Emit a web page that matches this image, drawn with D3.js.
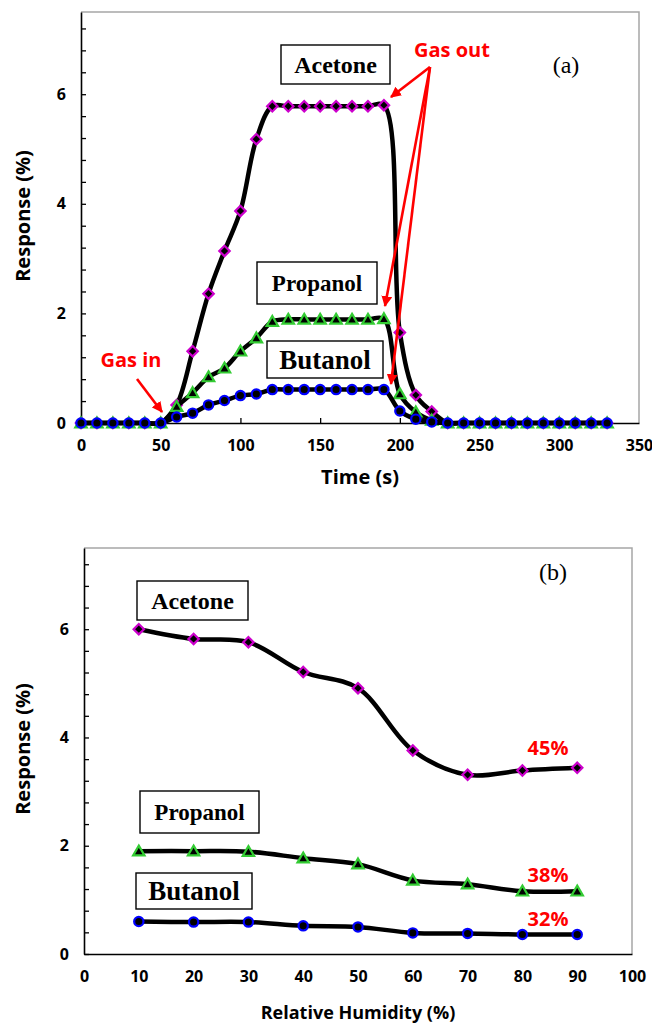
<!DOCTYPE html>
<html><head><meta charset="utf-8">
<script src="https://cdn.jsdelivr.net/npm/d3@7/dist/d3.min.js"></script>
<style>body{margin:0;background:#fff}svg{display:block}</style>
</head><body><svg id="c" width="652" height="1025"></svg>
<script>
// ---------- data: panel (a) ----------
const timeS = [0,10,20,30,40,50,60,70,80,90,100,110,120,130,140,150,160,170,180,190,200,210,220,230,240,250,260,270,280,290,300,310,320,330];
const acetoneTime  = [0,0,0,0,0,0,0.33,1.31,2.36,3.14,3.87,5.18,5.78,5.78,5.78,5.78,5.78,5.78,5.78,5.80,1.65,0.51,0.21,0,0,0,0,0,0,0,0,0,0,0];
const propanolTime = [0,0,0,0,0,0,0.30,0.55,0.84,1.00,1.31,1.55,1.85,1.89,1.89,1.89,1.89,1.89,1.89,1.90,0.53,0.20,0.05,0,0,0,0,0,0,0,0,0,0,0];
const butanolTime  = [0,0,0,0,0,0,0.11,0.18,0.33,0.41,0.50,0.53,0.61,0.61,0.61,0.61,0.61,0.61,0.61,0.61,0.22,0.07,0.02,0,0,0,0,0,0,0,0,0,0,0];
// ---------- data: panel (b) ----------
const humidity = [10,20,30,40,50,60,70,80,90];
const acetoneRH  = [6.00,5.82,5.76,5.21,4.91,3.76,3.31,3.39,3.44];
const propanolRH = [1.90,1.90,1.89,1.77,1.66,1.36,1.29,1.16,1.16];
const butanolRH  = [0.60,0.59,0.59,0.52,0.50,0.39,0.38,0.36,0.36];
// ---------- ticks ----------
const yTickValues = [0,0.4,0.8,1.2,1.6,2,2.4,2.8,3.2,3.6,4,4.4,4.8,5.2,5.6,6,6.4,6.8,7.2];
const yTickLabels = [0,2,4,6];
const xTicksTime = [0,50,100,150,200,250,300,350];
const xTicksRH = [0,10,20,30,40,50,60,70,80,90,100];
const reductionLabels = ["45%","38%","32%"];

const svg = d3.select("#c");
const SANS = "'Open Sans', sans-serif";
const SERIF = "'Liberation Serif', 'Times New Roman', serif";
const COL = {acetone:"#CC00CC", propanol:"#33CC33", butanol:"#0000FF"};

// arrow marker
svg.append("defs").append("marker")
  .attr("id","arr").attr("viewBox","0 0 10 10").attr("refX",9).attr("refY",5)
  .attr("markerWidth",4.2).attr("markerHeight",4.2).attr("orient","auto-start-reverse")
  .attr("markerUnits","strokeWidth")
  .append("path").attr("d","M0,0 L10,5 L0,10 z").attr("fill","#FF0000");

function panel(opts){
  const g = svg.append("g");
  const x = d3.scaleLinear().domain(opts.xDomain).range([opts.left, opts.right]);
  const y = d3.scaleLinear().domain([0,7.5]).range([opts.bottom, opts.top]);
  g.append("path").attr("d",`M${opts.left},${opts.top}H${opts.right}V${opts.bottom}`)
    .attr("fill","none").attr("stroke","#A6A6A6").attr("stroke-width",1.5);
  const ya = g.append("g").attr("transform",`translate(${opts.left},0)`)
    .call(d3.axisLeft(y).tickValues(yTickValues).tickSizeInner(-5).tickSizeOuter(0).tickPadding(15)
      .tickFormat(d => yTickLabels.includes(d) ? d : ""));
  const xa = g.append("g").attr("transform",`translate(0,${opts.bottom})`)
    .call(d3.axisBottom(x).tickValues(opts.xTicks).tickSizeInner(opts.xTickSize).tickSizeOuter(0).tickPadding(opts.xPad));
  [ya,xa].forEach(a=>{
    a.select(".domain").attr("stroke","#000").attr("stroke-width",1.6);
    a.selectAll(".tick line").attr("stroke","#000").attr("stroke-width",1.3);
    a.selectAll("text").attr("font-family",SANS).attr("font-weight","bold").attr("font-size",16).attr("fill","#000");
  });
  xa.selectAll(".tick line").filter(d=>d===opts.xDomain[0]||d===opts.xDomain[1]).remove();
  g.append("text").attr("x",(opts.left+opts.right)/2).attr("y",opts.xTitleY).attr("text-anchor","middle")
    .attr("font-family",SANS).attr("font-weight","bold").attr("font-size",opts.xTitleSize).text(opts.xTitle);
  g.append("text").attr("transform",`translate(30,${opts.yTitleC}) rotate(-90)`).attr("text-anchor","middle")
    .attr("font-family",SANS).attr("font-weight","bold").attr("font-size",20).text("Response (%)");
  const line = d3.line().x(d=>x(d[0])).y(d=>y(d[1])).curve(d3.curveCatmullRom.alpha(0.5));
  opts.series.forEach(s=>{
    const pts = opts.xs.map((v,i)=>[v,s.values[i]]);
    g.append("path").attr("d",line(pts)).attr("fill","none").attr("stroke","#000").attr("stroke-width",4.5)
      .attr("stroke-linejoin","round");
    const sym = s.kind==="diamond" ? d3.symbol(d3.symbolSquare,54)
              : s.kind==="triangle" ? d3.symbol(d3.symbolTriangle,56)
              : d3.symbol(d3.symbolCircle,68);
    g.selectAll(null).data(pts).enter().append("path")
      .attr("d",sym)
      .attr("transform",d=>`translate(${x(d[0])},${y(d[1])})`+(s.kind==="diamond"?" rotate(45)":"")+(s.kind==="triangle"?" translate(0,1)":""))
      .attr("fill","#000").attr("stroke",s.color).attr("stroke-width",2.2);
  });
  return {g,x,y};
}

function box(g, x0, y0, x1, y1, label, size){
  g.append("rect").attr("x",x0).attr("y",y0).attr("width",x1-x0).attr("height",y1-y0)
    .attr("fill","#fff").attr("stroke","#000").attr("stroke-width",1.4);
  g.append("text").attr("x",(x0+x1)/2).attr("y",(y0+y1)/2).attr("dy","0.34em").attr("text-anchor","middle")
    .attr("font-family",SERIF).attr("font-weight","bold").attr("font-size",size).text(label);
}
function redText(g,x,y,t){
  g.append("text").attr("x",x).attr("y",y).attr("text-anchor","middle").attr("font-family",SANS)
    .attr("font-weight","bold").attr("font-size",20).attr("fill","#FF0000").text(t);
}
function arrow(g,x1,y1,x2,y2){
  g.append("line").attr("x1",x1).attr("y1",y1).attr("x2",x2).attr("y2",y2)
    .attr("stroke","#FF0000").attr("stroke-width",2.6).attr("marker-end","url(#arr)");
}

// ---------- panel (a) ----------
const A = panel({
  xDomain:[0,350], left:81, right:639, top:12, bottom:423,
  xTicks:xTicksTime, xTickSize:-5, xPad:17,
  xTitle:"Time (s)", xTitleY:484, xTitleSize:20, yTitleC:216,
  xs:timeS,
  series:[
    {values:acetoneTime, color:COL.acetone, kind:"diamond"},
    {values:propanolTime, color:COL.propanol, kind:"triangle"},
    {values:butanolTime, color:COL.butanol, kind:"butanol"}
  ]
});
box(A.g,281,45,390,84,"Acetone",24);
box(A.g,257,262,377,304,"Propanol",23);
box(A.g,267,341,383,378,"Butanol",27);
A.g.append("text").attr("x",566).attr("y",73).attr("text-anchor","middle").attr("font-family",SERIF)
  .attr("font-size",24).text("(a)");
redText(A.g,452,57,"Gas out");
redText(A.g,131,367,"Gas in");
arrow(A.g,137,379,162,412);
arrow(A.g,430,67,391,97);
arrow(A.g,430,67,385,306);
arrow(A.g,430,67,391,384);

// ---------- panel (b) ----------
const B = panel({
  xDomain:[0,100], left:84, right:632, top:548, bottom:954,
  xTicks:xTicksRH, xTickSize:0, xPad:17,
  xTitle:"Relative Humidity (%)", xTitleY:1019, xTitleSize:18, yTitleC:749,
  xs:humidity,
  series:[
    {values:acetoneRH, color:COL.acetone, kind:"diamond"},
    {values:propanolRH, color:COL.propanol, kind:"triangle"},
    {values:butanolRH, color:COL.butanol, kind:"butanol"}
  ]
});
box(B.g,137,581,248,620,"Acetone",24);
box(B.g,140,791,259,833,"Propanol",23);
box(B.g,136,873,252,909,"Butanol",27);
B.g.append("text").attr("x",553).attr("y",580).attr("text-anchor","middle").attr("font-family",SERIF)
  .attr("font-size",24).text("(b)");
redText(B.g,548,755,reductionLabels[0]);
redText(B.g,548,882,reductionLabels[1]);
redText(B.g,548,926,reductionLabels[2]);
</script></body></html>
